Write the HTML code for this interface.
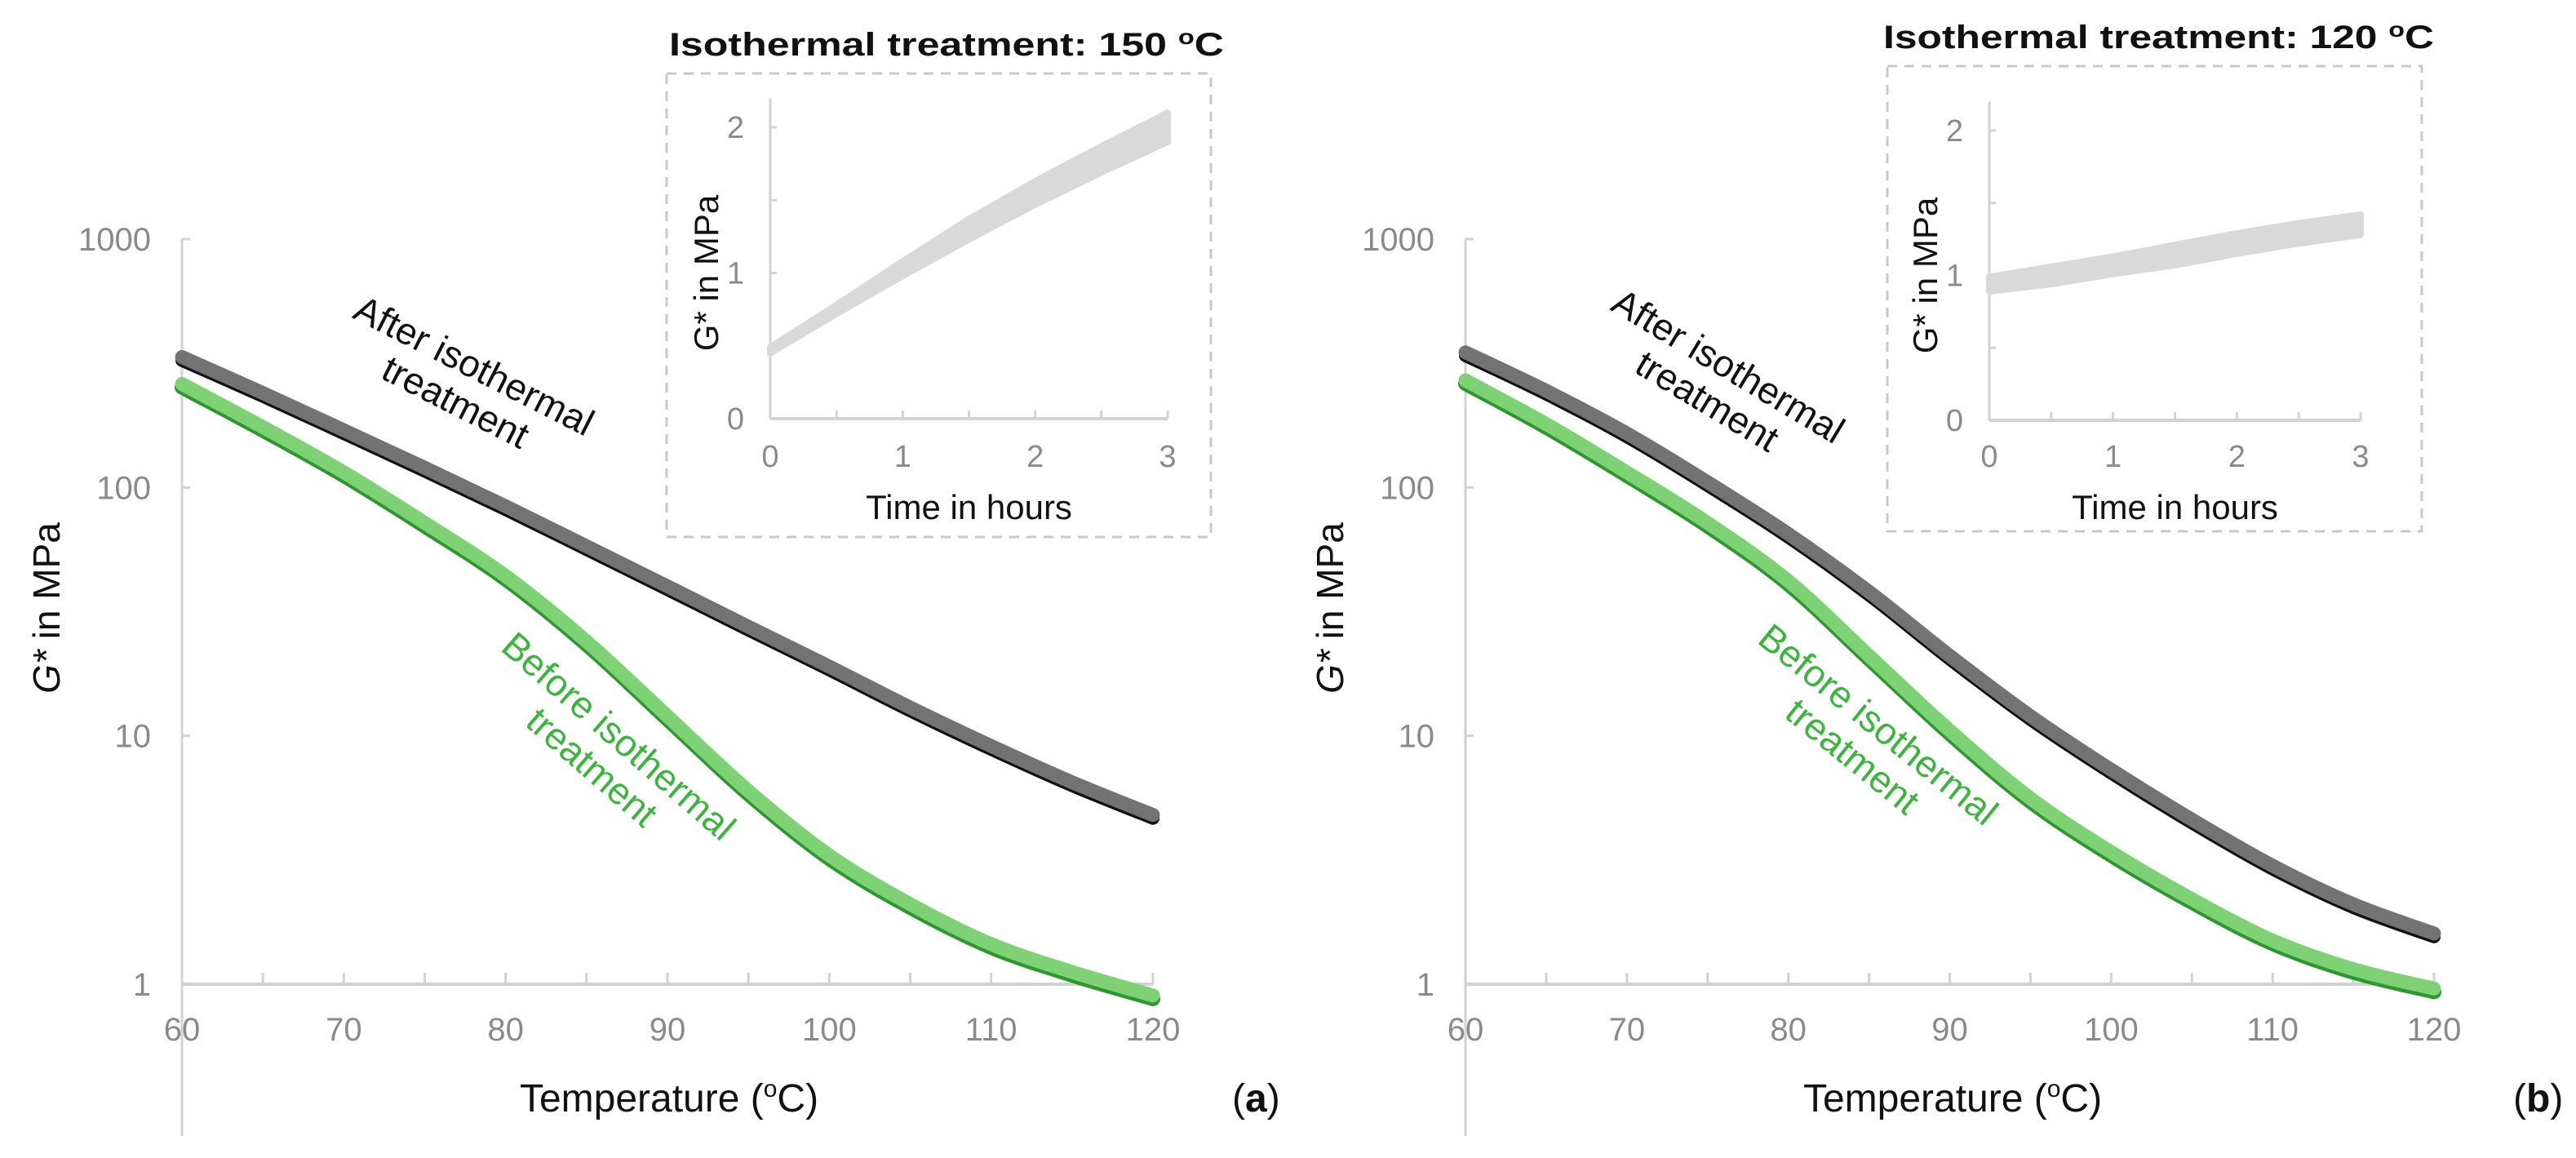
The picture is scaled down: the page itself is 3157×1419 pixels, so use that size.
<!DOCTYPE html>
<html><head><meta charset="utf-8"><style>
html,body{margin:0;padding:0;background:#fff}
svg{display:block}
text{font-family:"Liberation Sans",Arial,sans-serif}
</style></head><body>
<svg id="fig" width="3157" height="1419" viewBox="0 0 3157 1419" xmlns="http://www.w3.org/2000/svg">
<g id="panelA"></g>
<g id="panelB"></g>
</svg>
<script>
// ---- data ----
const temps = [60,65,70,75,80,85,90,95,100,105,110,115,120];
const afterA  = [335,240,170,120,84,58,40,27.5,19,13,9.1,6.5,4.8];
const beforeA = [261,175,115,72,44,24,12,6,3.3,2.1,1.45,1.12,0.9];
const afterB  = [350,245,165,105,65,38,21,12,7.3,4.6,3.0,2.1,1.6];
const beforeB = [270,180,115,72,42,21,10.5,5.6,3.4,2.2,1.5,1.15,0.96];
const yTicks = [1,10,100,1000];
const xTicks = [60,70,80,90,100,110,120];
const insetTime = [0,0.5,1,1.5,2,2.5,3];
const insetA = [0.47,0.75,1.03,1.3,1.55,1.78,2.0];
const insetSpreadA = [0.02,0.03,0.05,0.07,0.08,0.09,0.1];
const insetB = [0.94,1.0,1.07,1.14,1.22,1.29,1.35];
const insetSpreadB = [0.05,0.06,0.06,0.07,0.07,0.07,0.07];
const insetYTicks = [0,1,2];
const insetXTicks = [0,1,2,3];

const NS = "http://www.w3.org/2000/svg";
function mk(tag, attrs, parent, txt){
  const e = document.createElementNS(NS, tag);
  for (const k in attrs) e.setAttribute(k, attrs[k]);
  if (txt !== undefined) e.textContent = txt;
  parent.appendChild(e);
  return e;
}
function crPath(pts){
  let d = "M" + pts[0][0] + "," + pts[0][1];
  for (let i=0;i<pts.length-1;i++){
    const p0 = pts[Math.max(0,i-1)], p1 = pts[i], p2 = pts[i+1], p3 = pts[Math.min(pts.length-1,i+2)];
    const c1x = p1[0]+(p2[0]-p0[0])/6, c1y = p1[1]+(p2[1]-p0[1])/6;
    const c2x = p2[0]-(p3[0]-p1[0])/6, c2y = p2[1]-(p3[1]-p1[1])/6;
    d += " C"+c1x+","+c1y+" "+c2x+","+c2y+" "+p2[0]+","+p2[1];
  }
  return d;
}

function drawPanel(g, cfg){
  const xS = t => cfg.x0 + (t-60)/60*(cfg.x1-cfg.x0);
  const yS = v => cfg.y1 - Math.log10(v)/3*(cfg.y1-cfg.y0);
  const axisCol = "#d2d2d2";
  const ya = mk("line",{x1:cfg.x0,y1:cfg.y0,x2:cfg.x0,y2:1392,stroke:axisCol,"stroke-width":3},g);
  
  
  const xa = mk("line",{x1:cfg.x0,y1:cfg.y1,x2:cfg.x1,y2:cfg.y1,stroke:axisCol,"stroke-width":4},g);
  
  
  for (let t=65;t<=120;t+=5){
    const tk = mk("line",{x1:xS(t),y1:cfg.y1,x2:xS(t),y2:cfg.y1-14,stroke:axisCol,"stroke-width":3},g);
    
    
  }
  yTicks.forEach(v=>{
    const tk = mk("line",{x1:cfg.x0,y1:yS(v),x2:cfg.x0+10,y2:yS(v),stroke:axisCol,"stroke-width":3},g);
    
    
    const tl = mk("text",{x:cfg.x0-38,y:yS(v)+14,"text-anchor":"end","font-size":40,fill:"#8a8a8a"},g,String(v));
    
    
  });
  xTicks.forEach(t=>{
    const tl = mk("text",{x:xS(t),y:1275,"text-anchor":"middle","font-size":40,fill:"#8a8a8a"},g,String(t));
    
    
  });
  const yt = mk("text",{x:0,y:0,"text-anchor":"middle","font-size":46,fill:"#111",transform:"translate("+(cfg.x0-150)+",745) rotate(-90)"},g);
  
  
  mk("tspan",{"font-style":"italic"},yt,"G*");
  mk("tspan",{},yt," in MPa");
  const xt = mk("text",{x:cfg.x0+597,y:1362,"text-anchor":"middle","font-size":48,fill:"#111"},g);
  
  
  mk("tspan",{},xt,"Temperature (");
  mk("tspan",{"font-size":30,dy:-18},xt,"o");
  mk("tspan",{dy:18},xt,"C)");
  const pl = mk("text",{x:cfg.x1+97,y:1362,"font-size":48,fill:"#111"},g);
  
  
  mk("tspan",{},pl,"(");
  mk("tspan",{"font-weight":"bold"},pl,cfg.letter);
  mk("tspan",{},pl,")");
  const bp = temps.map((t,i)=>[xS(t),yS(cfg.before[i])]);
  const ap = temps.map((t,i)=>[xS(t),yS(cfg.after[i])]);
  const s1 = mk("path",{d:crPath(bp),fill:"none",stroke:"#2a9a2a","stroke-width":18,"stroke-linecap":"round",transform:"translate(0,4)"},g);
  
  
  const s2 = mk("path",{d:crPath(bp),fill:"none",stroke:"#7fd175","stroke-width":17,"stroke-linecap":"round"},g);
  
  
  const s3 = mk("path",{d:crPath(ap),fill:"none",stroke:"#111","stroke-width":16,"stroke-linecap":"round",transform:"translate(0,4)"},g);
  
  
  const s4 = mk("path",{d:crPath(ap),fill:"none",stroke:"#737373","stroke-width":17,"stroke-linecap":"round"},g);
  
  
  const la = mk("text",{"font-size":46,fill:"#111","text-anchor":"middle",transform:"translate("+cfg.aLab[0]+","+cfg.aLab[1]+") rotate("+cfg.aLab[2]+")"},g);
  
  
  mk("tspan",{x:0,y:0},la,"After isothermal");
  mk("tspan",{x:0,y:50},la,"treatment");
  const lb = mk("text",{"font-size":46,fill:"#3cb53c","text-anchor":"middle",transform:"translate("+cfg.bLab[0]+","+cfg.bLab[1]+") rotate("+cfg.bLab[2]+")"},g);
  
  
  mk("tspan",{x:0,y:0},lb,"Before isothermal");
  mk("tspan",{x:0,y:50},lb,"treatment");

  const ins = cfg.inset;
  const ig = mk("g",{},g);
  
  
  const ht = mk("text",{x:ins.hx,y:ins.hy,"font-size":40,"font-weight":"bold",fill:"#111",textLength:ins.hw,lengthAdjust:"spacingAndGlyphs"},ig);
  
  
  mk("tspan",{},ht,"Isothermal treatment: "+ins.temp+" ");
  mk("tspan",{"font-size":26,dy:-14},ht,"o");
  mk("tspan",{dy:14},ht,"C");
  const box = mk("rect",{x:ins.bx0,y:ins.by0,width:ins.bx1-ins.bx0,height:ins.by1-ins.by0,fill:"none",stroke:"#c8c8c8","stroke-width":3,"stroke-dasharray":"12 9"},ig);
  
  
  const ix = t => ins.ax0 + t/3*(ins.ax1-ins.ax0);
  const iy = v => ins.ay0 - v/2*(ins.ay0-ins.ay2);
  const iya = mk("line",{x1:ins.ax0,y1:iy(2.2),x2:ins.ax0,y2:ins.ay0,stroke:axisCol,"stroke-width":3},ig);
  
  
  const ixa = mk("line",{x1:ins.ax0,y1:ins.ay0,x2:ins.ax1,y2:ins.ay0,stroke:axisCol,"stroke-width":4},ig);
  
  
  for (let t=0.5;t<=3;t+=0.5){
    const tk = mk("line",{x1:ix(t),y1:ins.ay0,x2:ix(t),y2:ins.ay0-10,stroke:axisCol,"stroke-width":3},ig);
    
    
  }
  for (let v=0.5;v<=2;v+=0.5){
    const tk = mk("line",{x1:ins.ax0,y1:iy(v),x2:ins.ax0+8,y2:iy(v),stroke:axisCol,"stroke-width":3},ig);
    
    
  }
  insetYTicks.forEach(v=>{
    const tl = mk("text",{x:ins.ax0-32,y:iy(v)+13,"text-anchor":"end","font-size":38,fill:"#8a8a8a"},ig,String(v));
    
    
  });
  insetXTicks.forEach(t=>{
    const tl = mk("text",{x:ix(t),y:572,"text-anchor":"middle","font-size":38,fill:"#8a8a8a"},ig,String(t));
    
    
  });
  const iyt = mk("text",{"text-anchor":"middle","font-size":42,fill:"#111",transform:"translate("+(ins.ax0-64)+","+((ins.ay0+iy(2))/2)+") rotate(-90)"},ig);
  
  
  mk("tspan",{},iyt,"G* in MPa");
  const ixt = mk("text",{x:(ins.ax0+ins.ax1)/2,y:636,"text-anchor":"middle","font-size":42,fill:"#111"},ig,"Time in hours");
  
  
  const up = insetTime.map((t,i)=>ix(t)+","+iy(ins.vals[i]+ins.spread[i]));
  const lo = insetTime.map((t,i)=>ix(t)+","+iy(ins.vals[i]-ins.spread[i])).reverse();
  const band = mk("polygon",{points:up.concat(lo).join(" "),fill:"#d9d9d9",stroke:"#d9d9d9","stroke-width":8,"stroke-linejoin":"round"},ig);
  
  
}

drawPanel(document.getElementById("panelA"),{
  x0:223,x1:1413,y0:293,y1:1206,letter:"a",after:afterA,before:beforeA,
  aLab:[574,462,27],bLab:[748,914,41],
  inset:{temp:150,hx:820,hy:68,hw:680,bx0:817,bx1:1484,by0:90,by1:658,ax0:944,ax1:1431,ay0:513,ay2:156,vals:insetA,spread:insetSpreadA}
});
drawPanel(document.getElementById("panelB"),{
  x0:1796,x1:2983,y0:293,y1:1206,letter:"b",after:afterB,before:beforeB,
  aLab:[2110,462,31],bLab:[2292,900,39],
  inset:{temp:120,hx:2308,hy:59,hw:675,bx0:2313,bx1:2968,by0:81,by1:651,ax0:2438,ax1:2893,ay0:515,ay2:160,vals:insetB,spread:insetSpreadB}
});
</script>
</body></html>
